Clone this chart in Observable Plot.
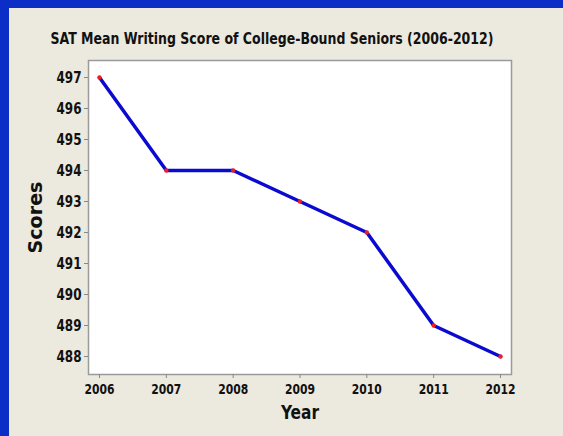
<!DOCTYPE html>
<html><head><meta charset="utf-8">
<script src="https://cdn.jsdelivr.net/npm/d3@7"></script>
<script src="https://cdn.jsdelivr.net/npm/@observablehq/plot@0.6"></script>
<style>
html,body{margin:0;padding:0;background:#0b2ec6;width:563px;height:436px;overflow:hidden}
#panel{position:absolute;left:9px;top:8px;width:554px;height:428px;background:#ece9df}
</style></head>
<body><div id="panel"></div>
<script>
const years = [2006, 2007, 2008, 2009, 2010, 2011, 2012];
const scores = [497, 494, 494, 493, 492, 489, 488];
const yTicks = [488, 489, 490, 491, 492, 493, 494, 495, 496, 497];
const title = "SAT Mean Writing Score of College-Bound Seniors (2006-2012)";
const xLabel = "Year";
const yLabel = "Scores";

const data = years.map((y, i) => ({year: y, score: scores[i]}));
const F = "'DejaVu Sans Condensed', 'DejaVu Sans', sans-serif";

const chart = Plot.plot({
  width: 554, height: 428,
  marginLeft: 79, marginRight: 52, marginTop: 52, marginBottom: 62,
  style: {background: "transparent", fontFamily: F, color: "#111", overflow: "visible"},
  x: {domain: [2006, 2012], insetLeft: 11, insetRight: 11, label: null},
  y: {domain: [488, 497], insetTop: 17, insetBottom: 18, label: null},
  marks: [
    Plot.frame({fill: "white", stroke: "#9a9a9a", strokeWidth: 1.5}),
    Plot.axisX({ticks: years, text: null, tickSize: 4, stroke: "#888"}),
    Plot.axisX({ticks: years, tickSize: 0, tickPadding: 10, tickFormat: d => String(d), fontSize: 14, fontWeight: "bold", fill: "#111"}),
    Plot.axisY({ticks: yTicks, text: null, tickSize: 4, stroke: "#888"}),
    Plot.axisY({ticks: yTicks, tickSize: 0, tickPadding: 7, tickFormat: d => String(d), fontSize: 16.5, fontWeight: "bold", fill: "#111"}),
    Plot.line(data, {x: "year", y: "score", stroke: "#0a0ad0", strokeWidth: 3.5}),
    Plot.dot(data, {x: "year", y: "score", r: 2.2, fill: "#e8202a"}),
    Plot.text([title], {frameAnchor: "top-left", textAnchor: "middle", lineAnchor: "middle", dx: 183.5, dy: -22, text: d => d, fontSize: 16, fill: "#111", fontWeight: "bold"}),
    Plot.text([xLabel], {frameAnchor: "bottom", textAnchor: "middle", lineAnchor: "middle", dy: 38, text: d => d, fontSize: 20, fontWeight: "bold", fill: "#111"}),
    Plot.text([yLabel], {frameAnchor: "left", textAnchor: "middle", lineAnchor: "middle", dx: -53, text: d => d, rotate: -90, fontSize: 20, fontWeight: "bold", fill: "#111"})
  ]
});
const s = d3.select(chart);
s.selectAll('g[aria-label="y-axis tick label"] text').attr("textLength", 25).attr("lengthAdjust", "spacingAndGlyphs");
s.selectAll('g[aria-label="x-axis tick label"] text').attr("textLength", 30).attr("lengthAdjust", "spacingAndGlyphs");
s.selectAll('g[aria-label="text"] text').each(function () {
  const t = this.textContent;
  const L = t === title ? 443 : t === xLabel ? 38 : t === yLabel ? 72 : null;
  if (L) d3.select(this).attr("textLength", L).attr("lengthAdjust", "spacingAndGlyphs");
});
document.getElementById("panel").appendChild(chart);
</script></body></html>
